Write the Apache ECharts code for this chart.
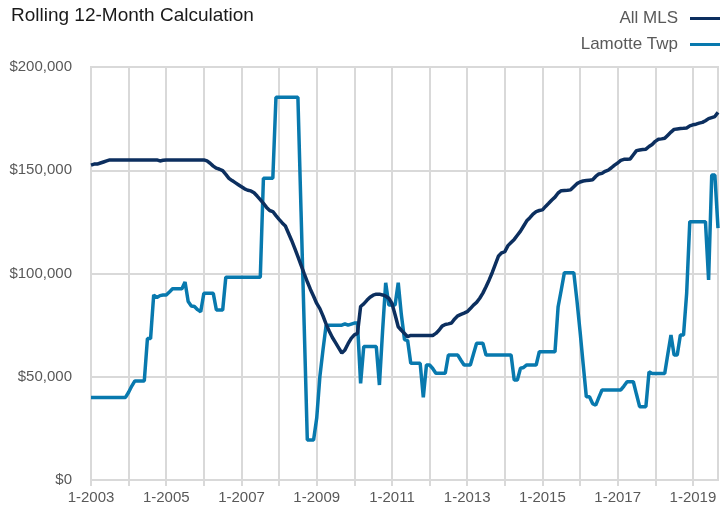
<!DOCTYPE html>
<html>
<head>
<meta charset="utf-8">
<script src="https://cdn.jsdelivr.net/npm/echarts@6/dist/echarts.min.js"></script>
<style>
html,body{margin:0;padding:0;background:#fff;}
#chart{width:720px;height:515px;}
</style>
</head>
<body>
<div id="chart"></div>
<script>
// monthly values, in thousands of dollars, Jan 2003 .. Sep 2019
var firstYear = 2003, lastYear = 2019, lastMonth = 9;

var allMls = [
  152.5, 153, 153, 153.5, 154, 154.5, 155, 155, 155, 155, 155, 155,          // 2003
  155, 155, 155, 155, 155, 155, 155, 155, 155, 155, 154.5, 154.8,             // 2004
  155, 155, 155, 155, 155, 155, 155, 155, 155, 155, 155, 155,                 // 2005
  155, 154.5, 153.4, 152, 151, 150.5, 149.8, 148, 146.1, 145, 144, 143,       // 2006
  142, 141, 140.3, 140, 139.1, 137.5, 135.8, 134, 132, 130.5, 130, 128,       // 2007
  126.2, 124.5, 123, 119.5, 116, 112.2, 108.2, 104.1, 100, 96, 92.3, 89,      // 2008
  85.5, 83, 79.5, 75.5, 72, 69, 66.5, 64, 61.5, 63, 66, 68.6,                 // 2009
  70.3, 71, 84, 85.3, 87, 88.5, 89.5, 90, 90, 89.6, 89, 88,                   // 2010
  85.5, 80, 74.2, 72.5, 71, 69.4, 70, 70, 70, 70, 70, 70,                     // 2011
  70, 70, 71, 72.5, 74.5, 75.3, 75.6, 76, 78, 79.5, 80.2, 80.8,               // 2012
  81.5, 83, 84.7, 86, 88, 90.5, 93.6, 96.9, 100.5, 104.5, 108.5, 110,         // 2013
  110.6, 113.5, 115, 116.5, 118.5, 120.5, 123, 125.5, 127, 128.8, 130, 130.5, // 2014
  130.8, 132.5, 134, 135.6, 137, 139, 140.1, 140.2, 140.3, 140.5, 142, 143.5, // 2015
  144.3, 144.8, 145, 145.2, 145.4, 147, 148.2, 148.5, 149.5, 150.1, 151.2, 152.5, // 2016
  153.5, 154.8, 155.3, 155.3, 155.5, 157.5, 159.5, 159.8, 160, 160.2, 161.5, 162.5, // 2017
  164, 165, 165.2, 165.5, 167, 168.5, 169.8, 170, 170.2, 170.3, 170.5, 171.5, // 2018
  172, 172.3, 172.8, 173.2, 174, 175, 175.5, 176, 178                         // 2019
];

var lamotte = [
  40, 40, 40, 40, 40, 40, 40, 40, 40, 40, 40, 40,                              // 2003
  42.5, 45.5, 48, 48, 48, 48, 68.5, 68.5, 89.6, 88.3, 89.3, 89.6,              // 2004
  89.6, 91, 92.6, 92.6, 92.6, 92.6, 95.9, 86.4, 84.3, 84, 82.5, 81.5,          // 2005
  90.4, 90.4, 90.4, 90.4, 82.3, 82.3, 82.3, 98.2, 98.2, 98.2, 98.2, 98.2,      // 2006
  98.2, 98.2, 98.2, 98.2, 98.2, 98.2, 98.2, 146.1, 146.1, 146.1, 146.1, 185.3, // 2007
  185.3, 185.3, 185.3, 185.3, 185.3, 185.3, 185.3, 130, 75, 19.4, 19.4, 19.4,  // 2008
  30, 50, 63, 75, 75, 75, 75, 75, 75, 75.6, 75, 75.5,                          // 2009
  76, 76, 46.8, 64.6, 64.6, 64.6, 64.6, 64.6, 46, 72, 95.5, 84.7,              // 2010
  84.7, 84.7, 95.5, 80, 68, 67.5, 56.5, 56.5, 56.5, 56.5, 40, 55.7,            // 2011
  55.7, 54, 51.7, 51.7, 51.7, 51.7, 60.5, 60.5, 60.5, 60.5, 58, 55.7,          // 2012
  55.7, 55.7, 61, 66.2, 66.2, 66.2, 60.5, 60.5, 60.5, 60.5, 60.5, 60.5,        // 2013
  60.5, 60.5, 60.5, 48.4, 48.4, 54.1, 54.5, 55.7, 55.7, 55.7, 55.7, 62.1,      // 2014
  62.1, 62.1, 62.1, 62.1, 62.1, 83.9, 92, 100.4, 100.4, 100.4, 100.4, 87,      // 2015
  72, 56, 40.3, 40.3, 37, 36.3, 40, 43.6, 43.6, 43.6, 43.6, 43.6,              // 2016
  43.6, 43.6, 45.5, 47.6, 47.6, 47.6, 41.5, 35.5, 35.5, 35.5, 52.4, 51.6,      // 2017
  51.6, 51.6, 51.6, 51.6, 61, 70.2, 60.5, 60.5, 70.2, 70.2, 90.4, 125.1,       // 2018
  125.1, 125.1, 125.1, 125.1, 125.1, 96.9, 147.7, 147.7, 122                   // 2019
];

var yTicks = [0, 50, 100, 150, 200];

// month labels like 1-2003
var months = [];
for (var y = firstYear; y <= lastYear; y++) {
  for (var m = 1; m <= 12; m++) {
    if (y === lastYear && m > lastMonth) break;
    months.push(m + '-' + y);
  }
}

var chart = echarts.init(document.getElementById('chart'));
var font = '"Liberation Sans Narrow", "Liberation Sans", Arial, sans-serif';
var gridGray = '#d9d9d9';

function money(v) {
  return '$' + (v * 1000).toLocaleString('en-US');
}

chart.setOption({
  animation: false,
  title: {
    text: 'Rolling 12-Month Calculation',
    left: 6, top: 1,
    textStyle: {fontFamily: font, fontSize: 19, fontWeight: 'normal', color: '#1a1a1a'}
  },
  legend: {
    orient: 'vertical',
    right: 0, top: 10,
    padding: 0,
    align: 'right',
    icon: 'rect',
    itemWidth: 30, itemHeight: 3,
    itemGap: 9,
    textStyle: {fontFamily: font, fontSize: 17, color: '#595959', padding: [0, 7, 0, 0]},
    data: ['All MLS', 'Lamotte Twp']
  },
  grid: {
    left: 91, right: 2, top: 67, bottom: 35,
    show: true, borderColor: gridGray, borderWidth: 2,
    containLabel: false
  },
  xAxis: {
    type: 'category',
    boundaryGap: false,
    data: months,
    axisLine: {lineStyle: {color: gridGray, width: 2}},
    axisTick: {show: true, length: 6, interval: function (i) { return i % 12 === 0; }, lineStyle: {color: gridGray, width: 2}},
    splitLine: {show: true, interval: function (i) { return i % 12 === 0; }, lineStyle: {color: gridGray, width: 2}},
    axisLabel: {
      interval: function (i) { return i % 24 === 0; },
      fontFamily: font, fontSize: 15, color: '#595959', margin: 10
    }
  },
  yAxis: {
    type: 'value',
    min: yTicks[0], max: yTicks[yTicks.length - 1], interval: 50,
    axisLine: {show: false},
    axisTick: {show: false},
    splitLine: {lineStyle: {color: gridGray, width: 2}},
    axisLabel: {fontFamily: font, fontSize: 15, color: '#595959', margin: 19, formatter: money}
  },
  series: [
    {
      name: 'All MLS', type: 'line', data: allMls, symbol: 'none',
      lineStyle: {color: '#0c2f5f', width: 3.5}, itemStyle: {color: '#0c2f5f'}, z: 3
    },
    {
      name: 'Lamotte Twp', type: 'line', data: lamotte, symbol: 'none',
      lineStyle: {color: '#0879ae', width: 3.5}, itemStyle: {color: '#0879ae'}, z: 2
    }
  ]
});
</script>
</body>
</html>
